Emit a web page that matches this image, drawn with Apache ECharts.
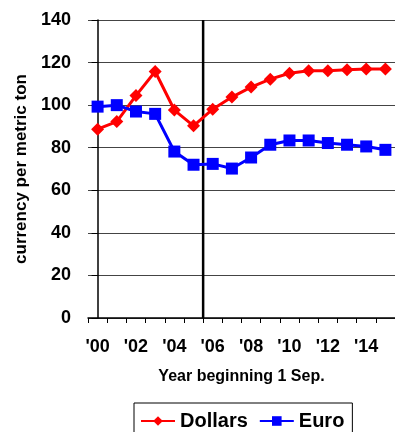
<!DOCTYPE html>
<html>
<head>
<meta charset="utf-8">
<script src="https://cdn.jsdelivr.net/npm/echarts@6/dist/echarts.min.js"></script>
<style>
  html, body { margin: 0; padding: 0; background: #fff; }
  #chart { width: 395px; height: 432px; }
</style>
</head>
<body>
<div id="chart"></div>
<script>
// Marketing years, each beginning 1 September
const years = ["'00", "'01", "'02", "'03", "'04", "'05", "'06", "'07",
               "'08", "'09", "'10", "'11", "'12", "'13", "'14", "'15"];

// Price in currency per metric ton
const dollars = [88.7, 92.3, 104.5, 115.8, 97.7, 90.3, 98.1, 103.8,
                 108.5, 112.2, 115.0, 116.2, 116.2, 116.6, 117.0, 117.0];
const euro = [99.3, 100.0, 97.0, 95.9, 78.2, 72.0, 72.4, 70.2,
              75.4, 81.4, 83.4, 83.4, 82.2, 81.4, 80.6, 79.0];

// Y axis scale
const yMin = 0;
const yMax = 140;
const yStep = 20;

// Divider between the '05 and '06 years (position in category units)
const dividerAt = 5.5;

const font = 'Liberation Sans, Arial, sans-serif';

const chart = echarts.init(document.getElementById('chart'), null, { renderer: 'canvas' });

chart.setOption({
  animation: false,
  backgroundColor: '#fff',
  grid: { left: 88, top: 20, right: -10, bottom: 114, containLabel: false },
  legend: {
    data: ['Dollars', 'Euro'],
    left: 134,
    top: 403,
    orient: 'horizontal',
    borderColor: '#000',
    borderWidth: 1,
    padding: [8, 8, 8, 6],
    itemWidth: 34,
    itemHeight: 12,
    itemGap: 11,
    textStyle: { fontFamily: font, fontWeight: 'bold', fontSize: 20, color: '#000' }
  },
  xAxis: [
    {
      type: 'category',
      data: years,
      boundaryGap: true,
      name: 'Year beginning 1 Sep.',
      nameLocation: 'middle',
      nameGap: 51,
      nameTextStyle: { fontFamily: font, fontWeight: 'bold', fontSize: 16, color: '#000' },
      axisLine: { lineStyle: { color: '#000', width: 1.5 } },
      axisTick: { show: true, interval: 0, length: 5, lineStyle: { color: '#000' } },
      axisLabel: {
        interval: 1,
        margin: 20,
        fontFamily: font, fontWeight: 'bold', fontSize: 18, color: '#000'
      },
      splitLine: { show: false }
    },
    {
      type: 'value',
      min: -0.5,
      max: years.length - 0.5,
      show: false
    }
  ],
  yAxis: {
    type: 'value',
    min: yMin,
    max: yMax,
    interval: yStep,
    name: 'currency per metric ton',
    nameLocation: 'middle',
    nameRotate: 90,
    nameGap: 58,
    nameTextStyle: { fontFamily: font, fontWeight: 'bold', fontSize: 17, color: '#000' },
    axisLine: { show: true, lineStyle: { color: '#000', width: 1.5 } },
    axisTick: { show: true, length: 6, lineStyle: { color: '#000' } },
    axisLabel: { margin: 17, fontFamily: font, fontWeight: 'bold', fontSize: 18, color: '#000' },
    splitLine: { show: true, lineStyle: { color: '#444', width: 1 } }
  },
  series: [
    {
      name: 'Divider',
      type: 'line',
      xAxisIndex: 1,
      data: [[dividerAt, yMin], [dividerAt, yMax]],
      symbol: 'none',
      silent: true,
      lineStyle: { color: '#000', width: 2.5 },
      z: 1
    },
    {
      name: 'Dollars',
      type: 'line',
      data: dollars,
      symbol: 'diamond',
      symbolSize: 13,
      showAllSymbol: true,
      color: '#ff0000',
      lineStyle: { color: '#ff0000', width: 3 },
      itemStyle: { color: '#ff0000' },
      z: 3
    },
    {
      name: 'Euro',
      type: 'line',
      data: euro,
      symbol: 'rect',
      symbolSize: 12,
      showAllSymbol: true,
      color: '#0000ff',
      lineStyle: { color: '#0000ff', width: 3 },
      itemStyle: { color: '#0000ff' },
      z: 3
    }
  ]
});
</script>
</body>
</html>
